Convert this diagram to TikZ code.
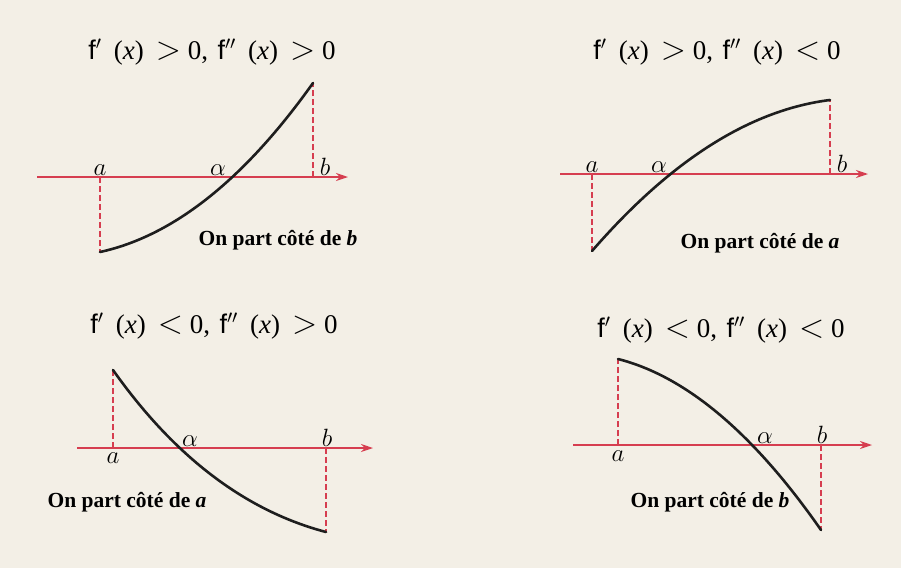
\RequirePackage{fix-cm}
\documentclass[tikz,border=0pt]{standalone}
\usepackage{fontspec}
\newfontfamily\tnr{Liberation Serif}
\newfontfamily\hel{Liberation Sans}
\usetikzlibrary{arrows.meta}
\definecolor{paper}{RGB}{243,239,230}
\definecolor{axred}{RGB}{214,62,80}
\definecolor{ink}{RGB}{30,30,30}
\newcommand{\fp}{{\hel f}$'$}
\newcommand{\fpp}{{\hel f}$''$}
\newcommand{\xx}{(\textit{x})}
\newcommand{\rel}[1]{{\fontsize{33}{33}\selectfont$#1$}}
\newcommand{\ttl}[2]{\fp\hspace{0.45em}\xx\hspace{0.45em}\rel{#1}\hspace{0.25em}0,\hspace{0.35em}\fpp\hspace{0.45em}\xx\hspace{0.45em}\rel{#2}\hspace{0.25em}0}
\begin{document}
\begin{tikzpicture}[x=1pt,y=-1pt,
  axis/.style={draw=axred, line width=1.3pt, -{Stealth[length=12pt,width=8pt]}},
  guide/.style={draw=axred, line width=1.1pt, dash pattern=on 6pt off 3pt},
  curve/.style={draw=ink, line width=2.6pt, line cap=round},
  title/.style={font=\tnr\fontsize{27}{30}\selectfont, inner sep=0pt},
  lab/.style={font=\fontsize{25}{30}\selectfont, inner sep=0pt},
  note/.style={font=\tnr\bfseries\fontsize{21.5}{24}\selectfont, inner sep=0pt}]
\fill[paper] (0,0) rectangle (901,568);
\useasboundingbox (0,0) rectangle (901,568);

% ---------- panel 1 ----------
\node[title] (t1) at (212,52) {\ttl{>}{>}};
\coordinate (o1) at (37,177); \coordinate (e1) at (348,177);
\draw[axis] (o1) -- (e1);
\coordinate (a1) at (100,177); \coordinate (fa1) at (100,252);
\coordinate (b1) at (313,177); \coordinate (fb1) at (313,83);
\draw[guide] (a1) -- (fa1);
\draw[guide] (b1) -- (fb1);
\draw[curve] (fa1) .. controls (173.3,236) and (244.3,179.7) .. (fb1);
\node[lab, anchor=base] (la1) at (100,175) {$a$};
\node[lab, anchor=base] (lal1) at (218,175) {$\alpha$};
\node[lab, anchor=base] (lb1) at (325,175) {$b$};
\node[note] (n1) at (278,240) {On part côté de \textit{b}};

% ---------- panel 2 ----------
\node[title] (t2) at (717,52) {\ttl{>}{<}};
\coordinate (o2) at (560,174); \coordinate (e2) at (868,174);
\draw[axis] (o2) -- (e2);
\coordinate (a2) at (592,174); \coordinate (fa2) at (592,251);
\coordinate (b2) at (830,174); \coordinate (fb2) at (830,100);
\draw[guide] (a2) -- (fa2);
\draw[guide] (b2) -- (fb2);
\draw[curve] (fa2) .. controls (670.7,160.3) and (750,110) .. (fb2);
\node[lab, anchor=base] (la2) at (592,172) {$a$};
\node[lab, anchor=base] (lal2) at (659,172) {$\alpha$};
\node[lab, anchor=base] (lb2) at (842,172) {$b$};
\node[note] (n2) at (760,243) {On part côté de \textit{a}};

% ---------- panel 3 ----------
\node[title] (t3) at (214,326) {\ttl{<}{>}};
\coordinate (o3) at (77,448); \coordinate (e3) at (373,448);
\draw[axis] (o3) -- (e3);
\coordinate (a3) at (113,448); \coordinate (fa3) at (113,370);
\coordinate (b3) at (326,448); \coordinate (fb3) at (326,532);
\draw[guide] (a3) -- (fa3);
\draw[guide] (b3) -- (fb3);
\draw[curve] (fa3) .. controls (174.3,456.7) and (245.3,510.7) .. (fb3);
\node[lab, anchor=north] (la3) at (113,453) {$a$};
\node[lab, anchor=base] (lal3) at (190,446) {$\alpha$};
\node[lab, anchor=base] (lb3) at (327,446) {$b$};
\node[note] (n3) at (127,502) {On part côté de \textit{a}};

% ---------- panel 4 ----------
\node[title] (t4) at (721,330) {\ttl{<}{<}};
\coordinate (o4) at (573,445); \coordinate (e4) at (872,445);
\draw[axis] (o4) -- (e4);
\coordinate (a4) at (618,445); \coordinate (fa4) at (618,359);
\coordinate (b4) at (821,445); \coordinate (fb4) at (821,530);
\draw[guide] (a4) -- (fa4);
\draw[guide] (b4) -- (fb4);
\draw[curve] (fa4) .. controls (686,376.3) and (753.7,433.3) .. (fb4);
\node[lab, anchor=north] (la4) at (618,451) {$a$};
\node[lab, anchor=base] (lal4) at (765,443) {$\alpha$};
\node[lab, anchor=base] (lb4) at (822,443) {$b$};
\node[note] (n4) at (710,502) {On part côté de \textit{b}};
\end{tikzpicture}
\end{document}
